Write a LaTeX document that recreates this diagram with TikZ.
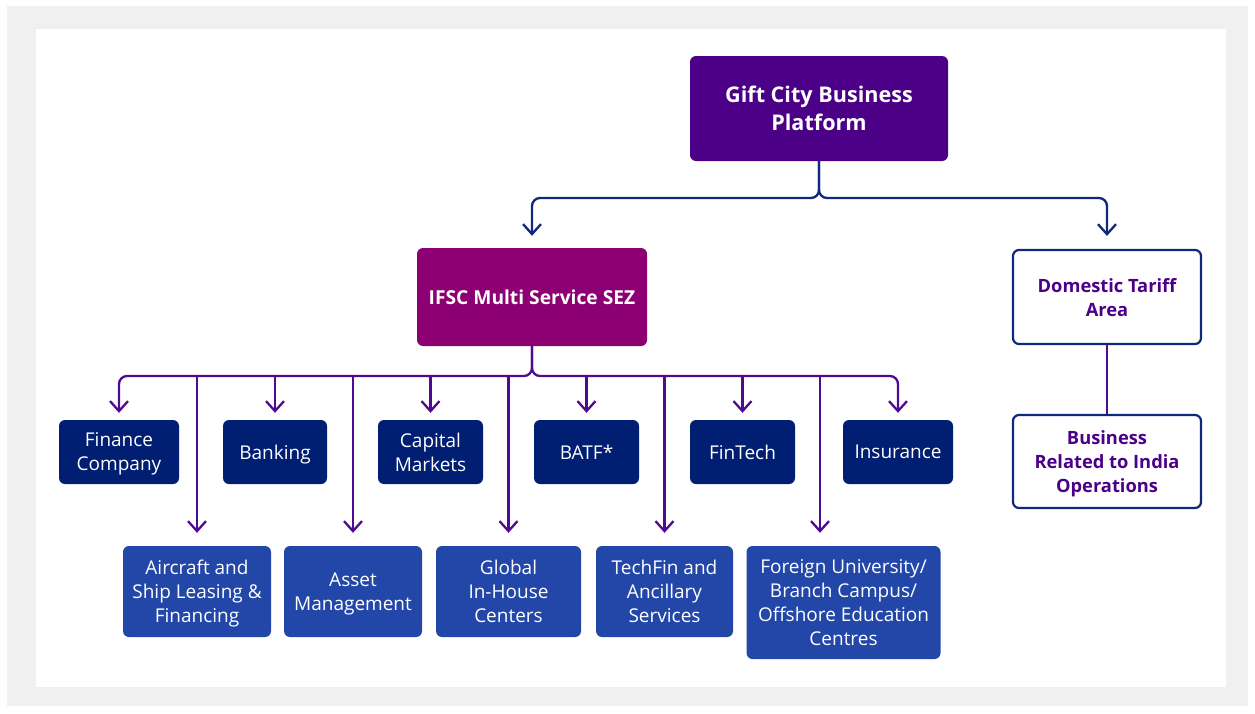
\documentclass[tikz,border=0pt]{standalone}
\usepackage{fontspec}
\setmainfont{Open Sans}
\usetikzlibrary{arrows.meta}
\definecolor{framegrey}{RGB}{240,240,240}
\definecolor{topfill}{RGB}{75,0,135}
\definecolor{ifscfill}{RGB}{140,0,115}
\definecolor{navyfill}{RGB}{0,31,115}
\definecolor{bluefill}{RGB}{35,71,168}
\definecolor{navyline}{RGB}{15,40,125}
\definecolor{purpleline}{RGB}{80,10,145}
\definecolor{purpletext}{RGB}{75,0,135}
\begin{document}
\begin{tikzpicture}[x=1pt,y=-1pt,
  box/.style={rectangle, rounded corners=6pt, align=center, inner sep=0pt, text=white, text depth=0pt},
  navybox/.style={box, fill=navyfill, font=\fontsize{19}{24}\selectfont},
  bluebox/.style={box, fill=bluefill, font=\fontsize{19}{24}\selectfont},
  outbox/.style={box, fill=white, draw=navyline, line width=2.2pt, text=purpletext, font=\bfseries\fontsize{18.3}{24}\selectfont},
  nline/.style={draw=navyline, line width=2.3pt, rounded corners=8pt},
  pline/.style={draw=purpleline, line width=2.3pt, rounded corners=8pt},
  arr/.style={-{Straight Barb[length=10pt,width=18pt]}}
]
\useasboundingbox (0,0) rectangle (1255,713);
\fill[framegrey] (7,6) rectangle (1248,706);
\fill[white] (36,29) rectangle (1226,687);

% main nodes
\node[box, fill=topfill, minimum width=258, minimum height=105,
  font=\bfseries\fontsize{21.6}{28}\selectfont] (top) at (819,108.5) {Gift City Business\\Platform};
\node[box, fill=ifscfill, minimum width=230, minimum height=98,
  font=\bfseries\fontsize{19.2}{24}\selectfont] (ifsc) at (532,297) {IFSC Multi Service SEZ};
\node[outbox, minimum width=188, minimum height=94] (dta) at (1107,297) {Domestic Tariff\\Area};
\node[outbox, minimum width=188, minimum height=93] (bri) at (1107,461.5) {Business\\Related to India\\Operations};

% top row
\node[navybox, minimum width=120, minimum height=64] (fin) at (119,452) {Finance\\Company};
\node[navybox, minimum width=104, minimum height=64] (bank) at (275,452) {Banking};
\node[navybox, minimum width=105, minimum height=64] (cap) at (430.5,452) {Capital\\Markets};
\node[navybox, minimum width=105, minimum height=64] (batf) at (586.5,452) {BATF*};
\node[navybox, minimum width=105, minimum height=64] (fint) at (742.5,452) {FinTech};
\node[navybox, minimum width=110, minimum height=64] (ins) at (898,452) {Insurance};

% bottom row
\node[bluebox, minimum width=148, minimum height=91] (air) at (197,591.5) {Aircraft and\\Ship Leasing \&\\Financing};
\node[bluebox, minimum width=138, minimum height=91] (asset) at (353,591.5) {Asset\\Management};
\node[bluebox, minimum width=145, minimum height=91] (gic) at (508.5,591.5) {Global\\In-House\\Centers};
\node[bluebox, minimum width=137, minimum height=91] (tech) at (664.5,591.5) {TechFin and\\Ancillary\\Services};
\node[bluebox, minimum width=194, minimum height=113] (foreign) at (843.5,602.5) {Foreign University/\\Branch Campus/\\Offshore Education\\Centres};

% connectors from top
\coordinate (tj) at (819,198);
\draw[nline, arr, shorten >=12pt] (top.south) |- (tj -| ifsc) -- (ifsc.north);
\draw[nline, arr, shorten >=13pt] (top.south) |- (tj -| dta) -- (dta.north);
\draw[pline] (dta.south) -- (bri.north);

% IFSC bus
\coordinate (bus) at (532,376);
\draw[pline, arr, shorten >=7pt] (ifsc.south) |- (bus -| fin) -- (fin.north);
\draw[pline, arr, shorten >=7pt] (ifsc.south) |- (bus -| ins) -- (ins.north);
\foreach \n in {bank,cap,batf,fint}
  \draw[pline, arr, shorten >=7pt] (bus -| \n) -- (\n.north);
\foreach \n in {air,asset,gic,tech}
  \draw[pline, arr, shorten >=13pt] (bus -| \n) -- (\n.north);
\coordinate (fd) at (820,376);
\draw[pline, arr, shorten >=13pt] (fd) -- (fd |- foreign.north);
\end{tikzpicture}
\end{document}
